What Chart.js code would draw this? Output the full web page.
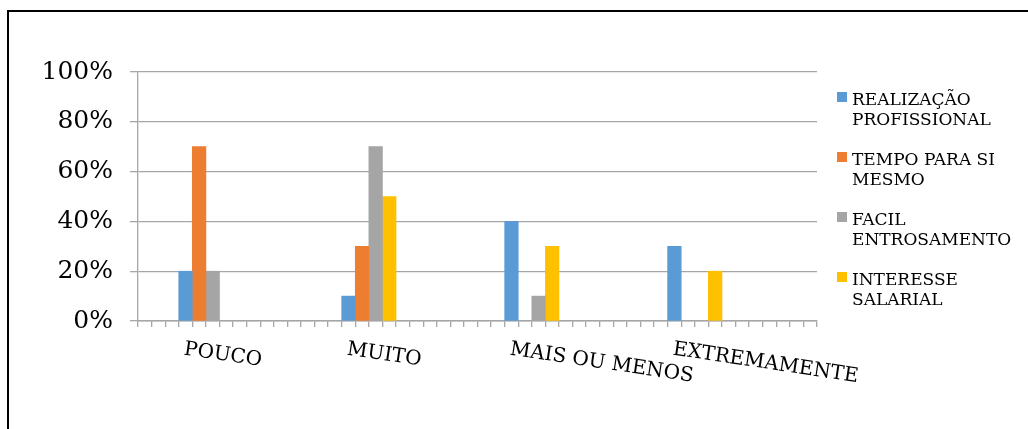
<!DOCTYPE html>
<html>
<head>
<meta charset="utf-8">
<script src="https://cdn.jsdelivr.net/npm/chart.js@4/dist/chart.umd.min.js"></script>
<style>
  html, body { margin: 0; padding: 0; background: #fff; overflow: hidden; }
  #wrap { position: relative; width: 1028px; height: 429px; }
  #chart { position: absolute; left: 0; top: 0; }
  #frame {
    position: absolute; left: 7px; top: 10px; width: 1100px; height: 500px;
    border: 2px solid #000; box-sizing: border-box; pointer-events: none;
  }
  #legend { position: absolute; left: 837px; top: 0; font-family: "DejaVu Serif", serif; font-size: 17px; color: #000; }
  .item { position: absolute; left: 0; width: 190px; }
  .box { position: absolute; left: 0; top: 3px; width: 10px; height: 10px; }
  .txt { position: absolute; left: 15px; top: 0; line-height: 20px; white-space: nowrap; }
</style>
</head>
<body>
<div id="wrap">
  <canvas id="chart" width="1028" height="429"></canvas>
  <div id="legend"></div>
  <div id="frame"></div>
</div>
<script>
// Answer categories and the share (%) of each reason within them
const categories = ['POUCO', 'MUITO', 'MAIS OU MENOS', 'EXTREMAMENTE'];
const seriesNames = [
  ['REALIZAÇÃO', 'PROFISSIONAL'],
  ['TEMPO PARA SI', 'MESMO'],
  ['FACIL', 'ENTROSAMENTO'],
  ['INTERESSE', 'SALARIAL']
];
const realizacaoProfissional = [20, 10, 40, 30];
const tempoParaSiMesmo      = [70, 30, 0, 0];
const facilEntrosamento     = [20, 70, 10, 0];
const interesseSalarial     = [0, 50, 30, 20];
const yTicks = [0, 20, 40, 60, 80, 100];

const seriesValues = [realizacaoProfissional, tempoParaSiMesmo, facilEntrosamento, interesseSalarial];
const colors = ['#5B9BD5', '#ED7D31', '#A5A5A5', '#FFC000'];

// The horizontal axis is a run of narrow slots; each answer group starts
// every 12 slots and each reason takes one slot inside its group.
const SLOT_COUNT = 50;
const FIRST_SLOT = 3;
const GROUP_STEP = 12;
const slotLabels = Array.from({ length: SLOT_COUNT }, () => '');
categories.forEach((c, g) => { slotLabels[FIRST_SLOT + g * GROUP_STEP] = c; });

const datasets = seriesValues.map((vals, s) => {
  const data = Array(SLOT_COUNT).fill(null);
  // a 0% answer leaves its slot empty
  vals.forEach((v, g) => { data[FIRST_SLOT + g * GROUP_STEP + s] = v === 0 ? null : v; });
  return {
    label: seriesNames[s].join(' '),
    data,
    backgroundColor: colors[s],
    borderWidth: 0,
    grouped: false,
    barPercentage: 1,
    categoryPercentage: 1
  };
});

const gridColor = '#A6A6A6';
const serif = '"DejaVu Serif", serif';

// Slanted category names under each group of bars
const groupLabels = {
  id: 'groupLabels',
  afterDraw(chart) {
    const { ctx } = chart;
    const xs = chart.scales.x;
    const size = 20;
    const angle = 8.5 * Math.PI / 180;
    ctx.save();
    ctx.fillStyle = '#000';
    ctx.font = size + 'px ' + serif;
    ctx.textAlign = 'left';
    ctx.textBaseline = 'alphabetic';
    categories.forEach((c, g) => {
      const x = xs.getPixelForValue(FIRST_SLOT + g * GROUP_STEP);
      const y = xs.top + 19;
      ctx.save();
      ctx.translate(x, y);
      ctx.rotate(angle);
      ctx.fillText(c, 0, size * 0.729);
      ctx.restore();
    });
    ctx.restore();
  }
};

new Chart(document.getElementById('chart'), {
  type: 'bar',
  data: { labels: slotLabels, datasets },
  options: {
    responsive: false,
    animation: false,
    layout: { padding: { left: 0, top: 72, right: 211, bottom: 0 } },
    plugins: { legend: { display: false }, tooltip: { enabled: false } },
    scales: {
      x: {
        z: 1,
        offset: true,
        grid: {
          offset: true,
          drawOnChartArea: false,
          drawTicks: true,
          tickLength: 6,
          color: gridColor,
          lineWidth: 1.3
        },
        border: { display: true, color: gridColor, width: 1.6 },
        ticks: { display: false },
        afterFit(scale) { scale.height = 108; }
      },
      y: {
        min: 0,
        max: 100,
        afterBuildTicks(scale) { scale.ticks = yTicks.map(v => ({ value: v })); },
        grid: { color: gridColor, lineWidth: 1.3, tickLength: 8 },
        border: { display: true, color: gridColor, width: 1.3 },
        ticks: {
          padding: 17,
          color: '#000',
          font: { family: serif, size: 25 },
          callback: v => v + '%'
        },
        afterFit(scale) { scale.width = 138; }
      }
    }
  },
  plugins: [groupLabels]
});

// Legend to the right of the plot
const legend = document.getElementById('legend');
seriesNames.forEach((lines, s) => {
  const item = document.createElement('div');
  item.className = 'item';
  item.style.top = (89 + s * 60) + 'px';
  const box = document.createElement('div');
  box.className = 'box';
  box.style.background = colors[s];
  const txt = document.createElement('div');
  txt.className = 'txt';
  txt.innerHTML = lines.join('<br>');
  item.appendChild(box);
  item.appendChild(txt);
  legend.appendChild(item);
});
</script>
</body>
</html>
